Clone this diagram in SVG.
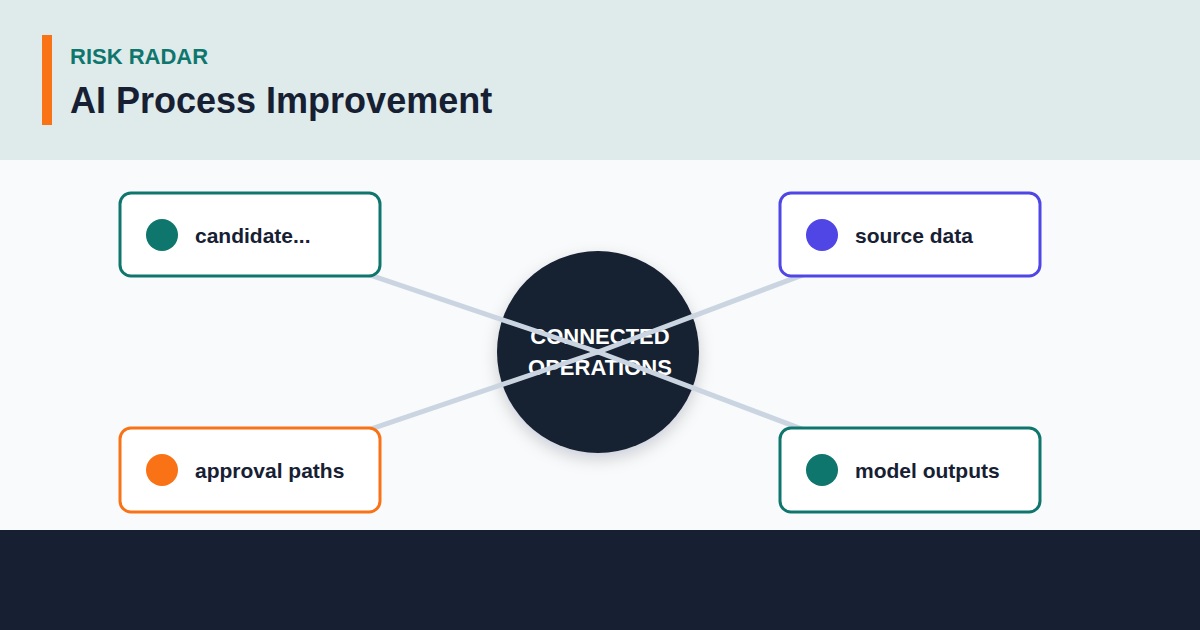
<svg xmlns="http://www.w3.org/2000/svg" width="1200" height="630" viewBox="0 0 1200 630">
<defs>
<style>
.box{fill:#ffffff;stroke-width:3}
.lbl{font-family:"Liberation Sans",Arial,sans-serif;font-weight:700;font-size:21px;fill:#172033}
.edge{stroke:#cbd5e1;stroke-width:5;stroke-linecap:round;fill:none}
.hub{font-family:"Liberation Sans",Arial,sans-serif;font-weight:700;font-size:22px;fill:#ffffff;text-anchor:middle}
</style>
<filter id="sh" x="-30%" y="-30%" width="160%" height="160%">
<feDropShadow dx="0" dy="6" stdDeviation="8" flood-color="#0f172a" flood-opacity="0.18"/>
</filter>
</defs>
<rect x="0" y="0" width="1200" height="160" fill="#deebea"/>
<rect x="0" y="160" width="1200" height="370" fill="#f8fafc"/>
<rect x="0" y="530" width="1200" height="100" fill="#172033"/>
<rect x="42" y="35" width="10" height="90" fill="#f97316"/>
<text x="70" y="64" font-family="'Liberation Sans',Arial,sans-serif" font-weight="700" font-size="22" fill="#0f766e">RISK RADAR</text>
<text x="70" y="113" font-family="'Liberation Sans',Arial,sans-serif" font-weight="700" font-size="36" fill="#172033">AI Process Improvement</text>
<g id="hub">
<circle cx="598" cy="352" r="101" fill="#172033" filter="url(#sh)"/>
<text class="hub" x="600" y="344">CONNECTED</text>
<text class="hub" x="600" y="375">OPERATIONS</text>
</g>
<g id="connectors">
<line class="edge" x1="598" y1="352" x2="250" y2="234.5"/>
<line class="edge" x1="598" y1="352" x2="910" y2="234.5"/>
<line class="edge" x1="598" y1="352" x2="250" y2="470"/>
<line class="edge" x1="598" y1="352" x2="910" y2="470"/>
</g>
<g id="node-candidate">
<rect class="box" x="120" y="193" width="260" height="83" rx="11" stroke="#0f766e"/>
<circle cx="162" cy="235" r="16" fill="#0f766e"/>
<text class="lbl" x="195" y="243">candidate...</text>
</g>
<g id="node-source">
<rect class="box" x="780" y="193" width="260" height="83" rx="11" stroke="#4f46e5"/>
<circle cx="822" cy="235" r="16" fill="#4f46e5"/>
<text class="lbl" x="855" y="243">source data</text>
</g>
<g id="node-approval">
<rect class="box" x="120" y="428" width="260" height="84" rx="11" stroke="#f97316"/>
<circle cx="162" cy="470" r="16" fill="#f97316"/>
<text class="lbl" x="195" y="478">approval paths</text>
</g>
<g id="node-model">
<rect class="box" x="780" y="428" width="260" height="84" rx="11" stroke="#0f766e"/>
<circle cx="822" cy="470" r="16" fill="#0f766e"/>
<text class="lbl" x="855" y="478">model outputs</text>
</g>
</svg>
